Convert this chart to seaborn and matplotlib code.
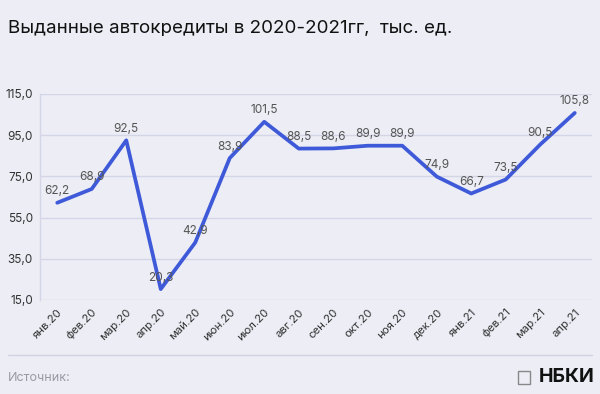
import matplotlib
matplotlib.use("Agg")
import matplotlib.pyplot as plt
import seaborn as sns
import pandas as pd
from matplotlib.patches import Rectangle

months = ["янв.20", "фев.20", "мар.20", "апр.20", "май.20", "июн.20", "июл.20", "авг.20",
          "сен.20", "окт.20", "ноя.20", "дек.20", "янв.21", "фев.21", "мар.21", "апр.21"]
values = [62.2, 68.9, 92.5, 20.3, 42.9, 83.9, 101.5, 88.5, 88.6, 89.9, 89.9, 74.9, 66.7, 73.5, 90.5, 105.8]
yticks = [15, 35, 55, 75, 95, 115]

bg = "#ECEDF5"
sns.set_theme(style="white")
plt.rcParams['font.family'] = ['Inter', 'DejaVu Sans']

fig = plt.figure(figsize=(6.0, 3.94), dpi=100, facecolor=bg)
ax = fig.add_axes([40/600, 1-300/394, (592-40)/600, (300-94)/394])
ax.set_facecolor(bg)

df = pd.DataFrame({"m": range(len(months)), "v": values})
sns.lineplot(data=df, x="m", y="v", ax=ax, color="#3F5AD9", linewidth=2.7, sort=False)

for i, v in enumerate(values):
    ax.annotate(f"{v:.1f}".replace(".", ","), (i, v), xytext=(0, 4), textcoords="offset points",
                ha="center", va="bottom", fontsize=8.5, color="#555555")

ax.set_xlim(-0.5, 15.5)
ax.set_ylim(15, 115)
ax.set_yticks(yticks)
ax.set_yticklabels([f"{t:.1f}".replace(".", ",") for t in yticks], fontsize=8.5, color="#333333")
ax.set_xticks(range(len(months)))
ax.set_xticklabels(months, rotation=45, ha="right", rotation_mode="anchor", fontsize=8.2, color="#333333")
ax.tick_params(axis="both", length=0, pad=5)
ax.set_xlabel("")
ax.set_ylabel("")
ax.yaxis.grid(True, color="#D3D6E6", linewidth=1)
ax.set_axisbelow(True)
for s in ["top", "right", "bottom"]:
    ax.spines[s].set_visible(False)
ax.spines["left"].set_color("#D3D6E6")
ax.spines["left"].set_linewidth(1)

fig.text(8/600, 1-28/394, "Выданные автокредиты в 2020-2021гг,  тыс. ед.", fontsize=13.5,
         color="#111111", ha="left", va="center")
fig.add_artist(plt.Line2D([8/600, 592/600], [1-355/394, 1-355/394], color="#D0D2DE", linewidth=1))
fig.text(8/600, 1-378/394, "Источник:", fontsize=9, color="#9A9AA5", ha="left", va="center")
fig.text(594/600, 1-377/394, "НБКИ", fontsize=14, fontweight="bold", color="#111111", ha="right", va="center")
fig.add_artist(Rectangle((518/600, 1-384/394), 12/600, 13/394, facecolor="none", edgecolor="#888888", linewidth=1))

fig.savefig("out.png", dpi=100, facecolor=bg)
